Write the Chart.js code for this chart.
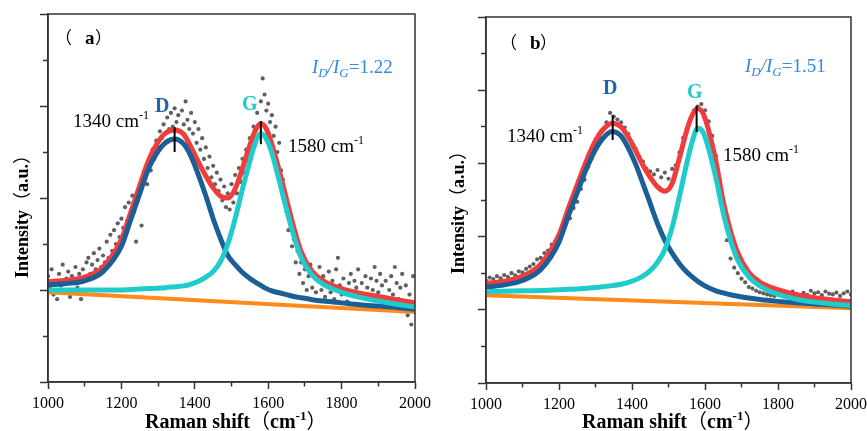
<!DOCTYPE html>
<html>
<head>
<meta charset="utf-8">
<script src="https://cdn.jsdelivr.net/npm/chart.js@4.4.0/dist/chart.umd.min.js"></script>
<style>
  html, body { margin: 0; padding: 0; background: #fff; }
  #wrap { position: relative; width: 867px; height: 431px; overflow: hidden; }
  canvas { position: absolute; top: 0; }
</style>
</head>
<body>
<div id="wrap">
  <canvas id="chartA" width="440" height="431" style="left:0px"></canvas>
  <canvas id="chartB" width="435" height="431" style="left:432px"></canvas>
</div>
<script>
// x positions of the fitted curves (cm-1)
const fitX = [1000,1050,1100,1150,1200,1225,1250,1275,1300,1320,1345,1370,1390,1410,1430,1450,1470,1490,1510,1530,1550,1565,1580,1595,1610,1630,1650,1670,1690,1720,1750,1800,1850,1900,1950,2000];

// panel (a) - fitted curves
const dBandA = [2.11,2.14,2.20,2.40,2.95,3.52,4.10,4.66,5.02,5.20,5.28,5.17,4.90,4.50,4.05,3.55,3.12,2.75,2.55,2.38,2.25,2.17,2.10,2.03,1.98,1.94,1.90,1.86,1.83,1.79,1.76,1.72,1.68,1.65,1.62,1.58];
const gBandA = [2.00,2.00,2.00,2.00,2.00,2.01,2.02,2.03,2.04,2.05,2.07,2.09,2.13,2.19,2.28,2.40,2.62,3.00,3.55,4.20,4.80,5.20,5.40,5.28,4.98,4.38,3.75,3.17,2.70,2.32,2.12,1.95,1.84,1.76,1.69,1.63];
const sumFitA = [2.18,2.21,2.28,2.50,3.10,3.68,4.27,4.84,5.22,5.41,5.48,5.38,5.10,4.78,4.48,4.22,4.04,4.00,4.20,4.65,5.15,5.47,5.62,5.50,5.17,4.60,3.97,3.35,2.83,2.40,2.20,2.03,1.93,1.86,1.79,1.72];
const baseX = [1000, 2000];
const baseA = [1.95, 1.52];

// panel (b) - fitted curves
const dBandB = [2.62,2.68,2.80,3.10,3.85,4.55,5.20,5.85,6.38,6.68,6.87,6.75,6.42,5.98,5.45,4.90,4.35,3.90,3.55,3.26,3.03,2.90,2.78,2.68,2.60,2.52,2.46,2.41,2.37,2.32,2.28,2.23,2.19,2.16,2.13,2.10];
const gBandB = [2.50,2.51,2.52,2.53,2.55,2.56,2.57,2.59,2.61,2.63,2.66,2.70,2.75,2.82,2.92,3.07,3.30,3.65,4.25,5.10,6.00,6.60,6.96,6.85,6.40,5.60,4.65,3.90,3.35,2.90,2.65,2.42,2.29,2.21,2.16,2.12];
const sumFitB = [2.72,2.78,2.92,3.25,4.05,4.75,5.42,6.07,6.62,6.92,7.10,7.00,6.72,6.35,5.95,5.62,5.36,5.24,5.45,6.15,6.90,7.32,7.50,7.36,6.90,6.05,4.95,4.15,3.55,3.02,2.76,2.55,2.41,2.33,2.27,2.22];
const baseB = [2.40, 2.04];

// peak markers (x, y from / to)
const markAX = [1345, 1580], markAY0 = [5.00, 5.17], markAY1 = [5.54, 5.67];
const markBX = [1347, 1577], markBY0 = [6.64, 6.86], markBY1 = [7.32, 7.57];

// measured spectrum (a)
const dotsAX = [1000,1005,1010,1015,1020,1025,1030,1035,1040,1045,1050,1055,1060,1065,1070,1075,1080,1085,1090,1095,
1100,1105,1110,1115,1120,1125,1130,1135,1140,1145,1150,1155,1160,1165,1170,1175,1180,1185,1190,1195,
1200,1205,1210,1215,1220,1225,1230,1235,1240,1245,1250,1255,1260,1265,1270,1275,1280,1285,1290,1295,
1300,1305,1310,1315,1320,1325,1330,1335,1340,1345,1350,1355,1360,1365,1370,1375,1380,1385,1390,1395,
1400,1405,1410,1415,1420,1425,1430,1435,1440,1445,1450,1455,1460,1465,1470,1475,1480,1485,1490,1495,
1500,1505,1510,1515,1520,1525,1530,1535,1540,1545,1550,1555,1560,1565,1570,1575,1580,1585,1590,1595,
1600,1605,1610,1615,1620,1625,1630,1635,1640,1645,1650,1655,1660,1665,1670,1675,1680,1685,1690,1695,
1700,1705,1710,1715,1720,1725,1730,1735,1740,1745,1750,1755,1760,1765,1770,1775,1780,1785,1790,1795,
1800,1805,1810,1815,1820,1825,1830,1835,1840,1845,1850,1855,1860,1865,1870,1875,1880,1885,1890,1895,
1900,1905,1910,1915,1920,1925,1930,1935,1940,1945,1950,1955,1960,1965,1970,1975,1980,1985,1990,1995,2000];
const dotsAY = [2.30,2.05,2.45,1.90,2.20,1.80,2.35,2.10,2.55,1.95,2.25,2.40,1.85,2.30,2.15,2.50,2.05,2.35,1.80,2.45,
2.25,2.60,2.70,2.35,2.55,2.80,2.45,2.65,2.90,2.50,2.75,2.60,3.05,2.70,3.20,2.85,3.30,3.00,3.45,3.15,
3.55,3.35,3.80,3.50,3.90,3.65,4.05,3.70,3.05,3.95,4.20,3.40,4.35,4.55,4.30,4.80,4.60,5.05,4.85,5.25,
5.10,5.45,5.30,5.60,5.40,5.75,5.50,5.85,5.55,5.95,5.65,5.80,5.45,5.90,5.60,6.10,5.70,5.50,5.85,5.40,
5.65,5.20,5.50,5.05,5.30,4.85,5.10,4.65,4.90,4.45,4.70,4.30,4.55,4.15,4.40,3.95,4.25,3.80,4.10,3.75,
4.30,3.90,4.50,4.10,4.65,4.35,4.85,4.55,5.05,4.80,5.30,5.05,5.55,5.30,5.85,5.60,6.10,6.60,6.25,5.90,
6.05,5.65,5.80,5.35,5.55,5.00,5.20,4.60,4.40,3.95,3.70,3.30,3.45,2.95,3.10,2.60,2.85,2.35,2.60,2.15,
2.45,2.00,2.30,2.55,2.05,2.35,1.95,2.25,2.50,2.00,2.30,1.85,2.15,2.40,1.95,2.20,1.80,2.45,2.70,2.10,
1.90,2.25,2.00,1.75,2.15,2.35,1.95,2.20,2.05,2.45,1.85,2.15,1.90,2.30,2.05,1.80,2.25,2.00,2.50,2.20,
1.95,2.35,2.10,1.85,2.20,1.65,2.00,2.30,1.90,2.50,2.15,1.80,2.05,2.35,1.75,2.10,1.45,1.90,1.25,2.30,1.60];

// measured spectrum (b)
const dotsBX = [1000,1010,1020,1030,1040,1050,1060,1070,1080,1090,1100,1110,1120,1130,1140,1150,1160,1170,1180,1190,
1200,1210,1220,1230,1240,1250,1260,1270,1280,1290,1300,1310,1320,1330,1340,1350,1360,1370,1380,1390,
1400,1410,1420,1430,1440,1450,1460,1470,1480,1490,1500,1510,1520,1530,1540,1550,1560,1570,1580,1590,
1600,1610,1620,1630,1640,1650,1660,1670,1680,1690,1700,1710,1720,1730,1740,1750,1760,1770,1780,1790,
1800,1810,1820,1830,1840,1850,1860,1870,1880,1890,1900,1910,1920,1930,1940,1950,1960,1970,1980,1990,2000];
const dotsBY = [2.80,2.88,2.84,2.92,2.86,2.95,2.90,3.00,2.94,3.05,
3.02,3.12,3.18,3.25,3.38,3.42,3.55,3.62,3.78,3.88,
4.02,4.15,4.35,4.50,4.78,4.95,5.30,5.55,5.90,6.15,
6.45,6.72,6.90,7.12,7.38,7.28,7.20,7.12,6.98,6.80,
6.55,6.40,6.18,6.05,5.85,5.78,5.70,5.82,5.62,5.75,
5.58,5.85,5.95,6.30,6.70,6.95,7.20,7.45,7.55,7.62,
7.45,7.15,6.75,6.20,5.55,4.85,3.90,3.40,3.15,3.00,
2.85,2.75,2.62,2.58,2.52,2.48,2.45,2.42,2.40,2.38,
2.42,2.47,2.40,2.44,2.50,2.43,2.38,2.46,2.41,2.52,
2.45,2.48,2.40,2.50,2.44,2.42,2.47,2.38,2.45,2.50,2.42];

const xTicks = [1000, 1200, 1400, 1600, 1800, 2000];

const RED = '#f23c3c', BLUE = '#1b5f97', CYAN = '#20cbcb', ORANGE = '#ff8a1c', DOT = '#606060';
const SERIF = "'Liberation Serif','DejaVu Serif','Noto Sans CJK SC',serif";
const CJK = "'Noto Sans CJK SC',sans-serif";
Chart.defaults.font.family = SERIF;

function font(size, style) { return (style || '') + ' ' + size + 'px ' + SERIF; }
function cjk(size) { return size + 'px ' + CJK; }
function pts(xs, ys) { return xs.map((x, i) => ({ x: x, y: ys[i] })); }

function buildDatasets(dx, dy, base, dBand, gBand, sumFit, mx, my0, my1) {
  const curve = (label, ys, color, width, order) => ({
    label: label, data: pts(fitX, ys), showLine: true, borderColor: color, borderWidth: width,
    pointRadius: 0, cubicInterpolationMode: 'monotone', order: order
  });
  const sets = [
    { label: 'Raw', data: pts(dx, dy), showLine: false, pointRadius: 2.1, pointBorderWidth: 0,
      pointBackgroundColor: DOT, order: 7 },
    { label: 'Baseline', data: pts(baseX, base), showLine: true, borderColor: ORANGE, borderWidth: 4,
      pointRadius: 0, order: 6 },
    curve('Fit', sumFit, RED, 5, 5),
    curve('D', dBand, BLUE, 5, 4),
    curve('G', gBand, CYAN, 5, 3)
  ];
  mx.forEach((x, i) => {
    sets.push({ label: 'peak' + i, data: [{ x: x, y: my0[i] }, { x: x, y: my1[i] }], showLine: true,
      borderColor: '#000', borderWidth: 2, pointRadius: 0, order: 1 });
  });
  return sets;
}

const framePlugin = {
  id: 'frame',
  afterDatasetsDraw(chart) {
    const a = chart.chartArea, ctx = chart.ctx;
    ctx.save();
    ctx.strokeStyle = '#333';
    ctx.lineWidth = 1.5;
    ctx.strokeRect(a.left, a.top, a.right - a.left, a.bottom - a.top);
    ctx.restore();
  }
};

const textPlugin = {
  id: 'textLayer',
  afterDraw(chart, args, opts) {
    const ctx = chart.ctx;
    for (const item of opts.items || []) {
      ctx.save();
      ctx.textBaseline = 'alphabetic';
      ctx.textAlign = 'left';
      ctx.translate(item.x, item.y);
      if (item.rotate) ctx.rotate(item.rotate);
      let w = 0;
      for (const r of item.runs) { ctx.font = r.f; w += ctx.measureText(r.t).width; }
      let cx = item.center ? -w / 2 : 0;
      for (const r of item.runs) {
        ctx.font = r.f;
        ctx.fillStyle = r.c || '#000';
        ctx.fillText(r.t, cx, r.dy || 0);
        cx += ctx.measureText(r.t).width;
      }
      ctx.restore();
    }
  }
};

function labelRuns(text) {
  return [{ t: text + ' cm', f: font(19) }, { t: '-1', f: font(12), dy: -8 }];
}
function ratioRuns(val) {
  const c = '#2f8ae0';
  return [
    { t: 'I', f: font(19, 'italic'), c: c }, { t: 'D', f: font(13, 'italic'), c: c, dy: 4 },
    { t: '/', f: font(19, 'italic'), c: c },
    { t: 'I', f: font(19, 'italic'), c: c }, { t: 'G', f: font(13, 'italic'), c: c, dy: 4 },
    { t: '=' + val, f: font(19), c: c }
  ];
}
function yTitleRuns(size) {
  return [{ t: 'Intensity', f: font(size, 'bold') }, { t: '（', f: cjk(size) },
          { t: 'a.u.', f: font(size, 'bold') }, { t: '）', f: cjk(size) }];
}
function xTitleRuns() {
  return [{ t: 'Raman shift', f: font(20, 'bold') }, { t: '（', f: cjk(20) },
          { t: 'cm', f: font(20, 'bold') }, { t: '-1', f: font(13, 'bold'), dy: -8 },
          { t: '）', f: cjk(20) }];
}

function makeChart(id, w, h, area, yMax, datasets, texts) {
  return new Chart(document.getElementById(id), {
    type: 'scatter',
    data: { datasets: datasets },
    options: {
      responsive: false,
      animation: false,
      events: [],
      layout: { padding: { left: 0, top: area.top, right: w - area.right, bottom: 0 } },
      plugins: {
        legend: { display: false },
        tooltip: { enabled: false },
        textLayer: { items: texts }
      },
      scales: {
        x: {
          type: 'linear', position: 'bottom', min: 1000, max: 2000,
          afterFit: s => { s.height = h - area.bottom; s.paddingLeft = 0; s.paddingRight = 0; },
          ticks: {
            stepSize: 100, autoSkip: false, maxRotation: 0, padding: 5, color: '#000',
            font: { size: 16 },
            callback: v => xTicks.includes(v) ? String(v) : ''
          },
          grid: {
            drawOnChartArea: false, tickLength: 7, tickWidth: 1.5, tickColor: '#333',
            tickBorderDash: c => (c.tick && !xTicks.includes(c.tick.value)) ? [4, 100] : []
          },
          border: { color: '#333', width: 1.5 }
        },
        y: {
          type: 'linear', position: 'left', min: 0, max: yMax,
          afterFit: s => { s.width = area.left; s.paddingTop = 0; s.paddingBottom = 0; },
          ticks: { stepSize: 1, display: false },
          grid: {
            drawOnChartArea: false, tickLength: 8, tickWidth: 1.5, tickColor: '#333',
            tickBorderDash: c => (c.tick && c.tick.value % 2 !== 0) ? [0, 3, 5, 100] : []
          },
          border: { color: '#333', width: 1.5 }
        }
      }
    },
    plugins: [framePlugin, textPlugin]
  });
}

// panel (a)
makeChart('chartA', 440, 431, { left: 48, right: 415, top: 14, bottom: 382 }, 8,
  buildDatasets(dotsAX, dotsAY, baseA, dBandA, gBandA, sumFitA, markAX, markAY0, markAY1),
  [
    { x: 55, y: 44, runs: [{ t: '（', f: cjk(17) }] },
    { x: 85, y: 44, runs: [{ t: 'a', f: font(19, 'bold') }] },
    { x: 95, y: 44, runs: [{ t: '）', f: cjk(17) }] },
    { x: 155, y: 112, runs: [{ t: 'D', f: font(20, 'bold'), c: '#1d67a6' }] },
    { x: 242, y: 110, runs: [{ t: 'G', f: font(20, 'bold'), c: '#1fc7c7' }] },
    { x: 73, y: 127, runs: labelRuns('1340') },
    { x: 288, y: 152, runs: labelRuns('1580') },
    { x: 312, y: 73, runs: ratioRuns('1.22') },
    { x: 28, y: 212, rotate: -Math.PI / 2, center: true, runs: yTitleRuns(18) },
    { x: 145, y: 428, runs: xTitleRuns() }
  ]);

// panel (b)
makeChart('chartB', 435, 431, { left: 54, right: 419, top: 17, bottom: 383 }, 10,
  buildDatasets(dotsBX, dotsBY, baseB, dBandB, gBandB, sumFitB, markBX, markBY0, markBY1),
  [
    { x: 68, y: 49, runs: [{ t: '（', f: cjk(17) }] },
    { x: 98, y: 49, runs: [{ t: 'b', f: font(19, 'bold') }] },
    { x: 108, y: 49, runs: [{ t: '）', f: cjk(17) }] },
    { x: 171, y: 94, runs: [{ t: 'D', f: font(20, 'bold'), c: '#1d67a6' }] },
    { x: 255, y: 98, runs: [{ t: 'G', f: font(20, 'bold'), c: '#1fc7c7' }] },
    { x: 75, y: 142, runs: labelRuns('1340') },
    { x: 291, y: 161, runs: labelRuns('1580') },
    { x: 313, y: 72, runs: ratioRuns('1.51') },
    { x: 32, y: 208, rotate: -Math.PI / 2, center: true, runs: yTitleRuns(18) },
    { x: 150, y: 428, runs: xTitleRuns() }
  ]);
</script>
</body>
</html>
